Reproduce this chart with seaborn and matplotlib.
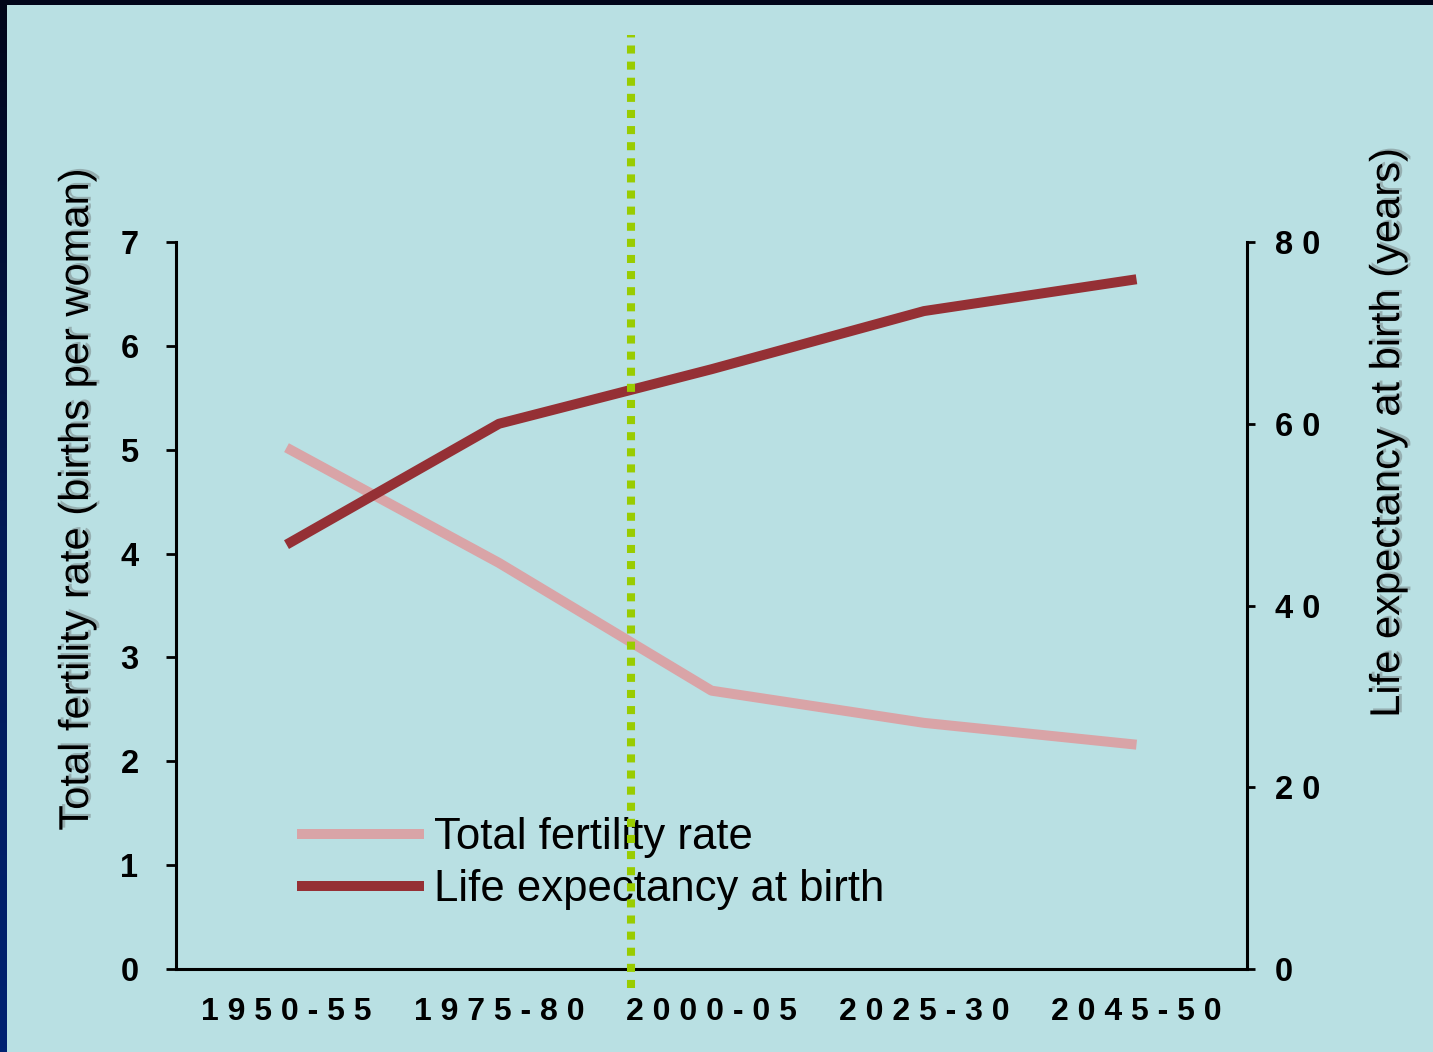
import numpy as np
import pandas as pd
import matplotlib
matplotlib.use("Agg")
import matplotlib.pyplot as plt
import matplotlib.patheffects as pe
from matplotlib.patches import Rectangle
from matplotlib.colors import LinearSegmentedColormap
import seaborn as sns

# ---- data -------------------------------------------------------------
periods = ["1950-55", "1975-80", "2000-05", "2025-30", "2045-50"]
fertility = [5.02, 3.91, 2.68, 2.37, 2.16]          # births per woman
life_expectancy = [46.7, 60.0, 66.0, 72.4, 75.9]    # years
fertility_ticks = [0, 1, 2, 3, 4, 5, 6, 7]
life_ticks = [0, 20, 40, 60, 80]
present_position = 1.62  # "today" marker, between 1975-80 and 2000-05

df = pd.DataFrame({"period": periods,
                   "fertility": fertility,
                   "life": life_expectancy})

# ---- style ------------------------------------------------------------
sns.set_theme(style="ticks")
plt.rcParams["font.family"] = ["Liberation Sans", "DejaVu Sans"]

BG = "#B9E0E3"
PINK = "#D9A4A7"
RED = "#953035"
GREEN = "#99CC00"
W, H = 1433, 1052

fig = plt.figure(figsize=(W / 100, H / 100), dpi=100)

# dark slide frame with a light panel
frame = fig.add_axes([0, 0, 1, 1], zorder=-10)
grad = np.linspace(0, 1, 256).reshape(-1, 1)
cmap = LinearSegmentedColormap.from_list("frame", ["#01061a", "#031a55", "#002272"])
frame.imshow(grad, aspect="auto", cmap=cmap, extent=[0, 1, 0, 1], origin="upper")
frame.add_patch(Rectangle((7 / W, 0), 1, 1 - 5 / H, color=BG, lw=0))
frame.set_xlim(0, 1)
frame.set_ylim(0, 1)
frame.axis("off")

ax = fig.add_axes([176 / W, 1 - 969 / H, (1247 - 176) / W, (969 - 242) / H])
ax.patch.set_alpha(0)
ax2 = ax.twinx()
ax2.patch.set_alpha(0)

sns.lineplot(data=df, x="period", y="fertility", ax=ax, color=PINK,
             lw=7.2, label="Total fertility rate", sort=False,
             solid_capstyle="butt")
sns.lineplot(data=df, x="period", y="life", ax=ax2, color=RED,
             lw=7.2, label="Life expectancy at birth", sort=False,
             solid_capstyle="butt")

ax.set_xlim(-0.52, 4.52)
ax.set_ylim(0, 7)
ax2.set_ylim(0, 80)


def spaced(s):
    return " ".join(s)


ax.set_xticks(range(len(periods)))
ax.set_xticklabels([spaced(p) for p in periods])
ax.set_yticks(fertility_ticks)
ax.set_yticklabels([str(t) for t in fertility_ticks])
ax2.set_yticks(life_ticks)
ax2.set_yticklabels([spaced(str(t)) for t in life_ticks])

ax.tick_params(axis="x", length=0, pad=20, labelsize=23, colors="black")
ax.tick_params(axis="y", direction="out", length=7, width=2, pad=20,
               labelsize=23.5, colors="black")
ax2.tick_params(axis="y", direction="out", length=6, width=2, pad=14,
                labelsize=23.5, colors="black")
for lab in ax.get_xticklabels() + ax.get_yticklabels() + ax2.get_yticklabels():
    lab.set_fontweight("bold")

for a in (ax, ax2):
    a.spines["top"].set_visible(False)
    for s in a.spines.values():
        s.set_color("black")
        s.set_linewidth(2.2)
ax.spines["right"].set_visible(False)
ax2.spines["left"].set_visible(False)
ax2.spines["bottom"].set_visible(False)
ax.grid(False)
ax2.grid(False)

shadow = [pe.SimplePatchShadow(offset=(2, 1.5), shadow_rgbFace="#555555", alpha=0.35),
          pe.Normal()]
ax.set_xlabel("")
ax.set_ylabel("Total fertility rate (births per woman)", fontsize=30,
              color="black", path_effects=shadow)
ax.yaxis.set_label_coords(-0.0738, 0.645)
ax2.set_ylabel("Life expectancy at birth (years)", fontsize=30,
               color="black", path_effects=shadow)
ax2.yaxis.set_label_coords(1.113, 0.737)

# legend combining both axes
h1, l1 = ax.get_legend_handles_labels()
h2, l2 = ax2.get_legend_handles_labels()
if ax.get_legend() is not None:
    ax.get_legend().remove()
if ax2.get_legend() is not None:
    ax2.get_legend().remove()
leg = ax2.legend(h1 + h2, l1 + l2, loc="upper left",
                 bbox_to_anchor=(297 / W, 1 - 817 / H),
                 bbox_transform=fig.transFigure, frameon=False, fontsize=31.5,
                 handlelength=2.9, handletextpad=0.23, labelspacing=0.25,
                 borderpad=0, borderaxespad=0)
for t in leg.get_texts():
    t.set_color("black")

# dotted "present" marker across the whole panel
ax2.axvline(present_position, ymin=-0.026, ymax=1.285, clip_on=False,
            color=GREEN, lw=5.8, linestyle=(0, (1, 1)),
            dash_capstyle="butt", zorder=10)

fig.savefig("out.png", dpi=100)
